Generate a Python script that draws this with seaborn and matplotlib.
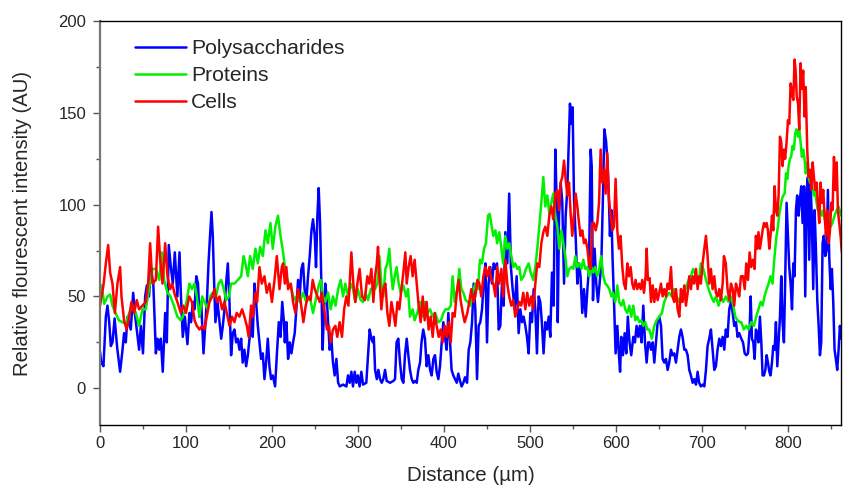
import numpy as np
import pandas as pd
import seaborn as sns
import matplotlib
matplotlib.use("Agg")
import matplotlib.pyplot as plt
from matplotlib.ticker import MultipleLocator

# ---------------- data ----------------
poly_x = [0,1.5,4,6.8,8.7,10.7,12.6,14.5,17,20,23.4,26,28,30,32,35.8,38.6,40.5,42.8,45.5,47.5,50,52.5,54.5,57,59,62,65,66.9,68.8,70.7,73,75.8,77.7,80,82.4,84.7,87,90,92.5,94,96.3,98.7,101.7,104,
          106,108,110,112,114,115.7,117.7,120.4,122.7,124.6,126.2,128,129.7,131.2,132.8,134.3,136.7,139,141,142.9,144.8,146.7,148.7,150.6,152.5,154.5,156.4,158.4,160.3,162.2,164.2,166,168,170,172,173.9,175.8,177.7,179.7,181.6,183.6,185.5,187.4,189.4,191.3,193.2,195.2,197.1,199,201,203.7,205.7,208,210,
          212,214,215,216.8,218.8,220.7,222.7,224.6,226.5,228.4,230.4,232.3,234.3,236.2,238,240,242,244,246,247.8,249.8,251.3,252.9,254.4,256,257.5,259,260.6,262,263.7,265.3,267.2,269,271,273,275,277,279,282.7,286.6,288.5,290.5,292.4,294.3,296.3,298.2,300,302,304,306,309.8,311.8,313.7,315.7,317.6,
          318.5,320,322,323.8,325.8,327.7,329.6,331.6,333.5,337.4,341.3,343.2,345,347,349,351,352.9,354.8,356.8,358.7,360.6,362.6,364.5,366.4,368.4,370.3,372.3,374,376,378,380,382,384,385.8,387.8,389.7,391.6,393.6,395.5,397.5,399.4,401.3,403.3,405.2,407,409,411,413,415,416.8,418.8,420.7,422.7,424.6,
          427,428.9,430.8,432.8,434.7,436.6,438.6,440.5,442.4,444.4,446.3,448.3,450.2,452,454,456,458,460,461.8,463.8,465.7,467.6,469.6,471.5,473.8,476,478,480,482.4,484.7,487,489,491,492.8,494.8,496.7,498.6,500.6,502.5,504.5,506.4,508.3,510.3,512.2,514,516,518,520,522,523.8,525.8,527.7,529.7,531.6,
          532.5,534,535.9,537.8,539.8,541.7,543.6,545.6,546.7,548.3,549.8,551.4,553.3,555.3,557.2,559,561,563,565,567,568.8,570.8,572,573.5,575.4,577.3,579.3,581.2,583.2,585,586.7,588.6,590,591.7,593.2,594.8,596.3,597.9,599.8,601.8,603.3,605,606.4,608.4,610.3,612.2,614,616,618,620.4,622.3,624.2,626.2,628,630,632,634,635.9,637.8,
          639,641,643,644.8,646.8,648.7,650.6,652.6,654.5,656.4,658.4,660.3,662.2,664.2,666,668,670,672,673.9,675.8,677.7,679.7,681.6,683.6,685.5,687.4,689.4,691.3,693.3,695.2,697,699,701,703,704.9,706.8,708.7,710.7,712.6,714.6,716.5,718.4,720.4,722.3,724.3,726.2,728,730,732,734,736,737.8,739.8,741.7,743.6,
          746,748,750,751.8,753.8,755.7,756.9,758.4,760,761.5,763,764.6,766,767.7,769.3,770.8,772.4,774,775.5,777,778.6,780,781.7,783.2,784.8,786.3,787.9,789.4,791,792.5,794,795.6,797,798.7,800.3,801.8,803.4,805,806.5,808,809.6,811,812.7,814.2,815.8,817.3,818.9,820.4,822,823.5,825,826.6,828,829.7,831.3,832.8,834.4,836,837.5,839,840.6,842,843.7,845.2,846.8,848.3,849.9,851.4,853,854.5,856,857.6,859.2,860.7,862.3]
poly_y = [20,14,12,39,45,36,23,25,38,22,9,20,30,25,39,32,52,41,32,21,34,19,50,56,50,65,57,19,27,21,27,9,41,25,78,66,57,74,50,74,52,28,39,24,41,
          36,47,43,61,57,39,47,19,36,50,68,83,96,83,57,36,47,36,27,34,43,57,68,47,18,30,32,25,27,21,27,14,21,12,18,27,39,28,57,47,34,25,16,19,5,14,27,12,5,7,1,18,36,28,
          47,36,25,36,16,25,19,25,30,43,59,50,65,68,54,47,61,72,86,92,83,66,94,109,90,57,21,43,57,50,36,21,28,14,7,16,3,1,2,1,7,3,9,1,9,3,7,1,9,2,3,18,32,27,25,
          28,10,5,10,5,3,5,10,4,3,4,5,25,27,14,5,3,18,27,18,10,5,3,4,3,10,14,25,32,27,12,18,10,7,16,18,9,5,12,25,36,28,21,41,27,10,7,5,3,8,4,1,3,6,
          3,21,25,36,57,43,5,34,36,43,57,68,25,57,66,57,68,65,68,32,34,57,45,85,68,106,66,54,43,61,30,43,36,39,34,28,19,41,36,54,43,19,50,47,36,19,36,32,39,28,63,45,130,94,
          36,94,112,101,57,94,108,139,155,144,153,103,83,57,68,61,41,54,39,54,65,130,121,48,76,57,47,57,68,103,141,135,126,108,83,97,70,48,19,34,21,9,28,18,30,19,39,25,18,28,25,34,28,34,25,45,25,14,25,
          25,21,25,14,25,36,39,34,16,14,16,10,14,21,18,19,14,21,28,32,28,21,21,18,10,7,3,5,2,9,3,1,2,1,10,23,27,32,21,10,12,21,27,23,28,21,32,28,43,47,41,34,36,28,30,
          27,25,19,18,19,32,50,27,25,16,32,30,25,39,25,7,7,10,18,14,9,7,14,23,21,36,12,25,39,61,36,25,57,101,83,66,57,43,68,61,97,105,94,103,110,90,110,50,108,115,70,112,94,54,97,76,48,34,18,25,79,83,72,75,108,72,54,65,47,21,16,10,21,34,27]

prot_x = [0,2,4.9,8.7,11.8,14.5,18,22,26,30,34,37.8,41.7,45.5,49.4,53.3,57,61,65,69,72,74.6,78.5,82,86,90,94,98,101.7,104,107,110,112.6,115.7,118.8,121.5,125.4,128,131,135,138,141,144,146.7,150,152.5,156.4,160.3,164.2,167,169.2,172,174.6,177.7,180.8,183.6,186.3,189.4,192.5,195.2,198.3,201,204,207,210,
          213,215,216.8,219.5,222.7,225.7,228.4,232.3,236.2,240,244,247.8,251.7,254.4,256.7,259.5,262,265.3,268.4,271,274,277,280,282.7,285.4,288.5,291.6,294.3,297,300,303.2,306,308.7,311.8,315,
          318,320,322.6,325,327.3,329.6,332,334.3,336.6,338,340.5,342.8,345,347.5,349.8,352.9,356,358.3,360.6,363.7,366,369,372.3,375.4,378,380.8,384,387,390,393.6,396.7,399.4,402,405.2,408,410.2,412.6,415.7,418,420.3,422.7,425.4,
          428,430.8,433.5,436.6,439.7,442,444.4,446.7,449,451.4,453.3,455,457.6,460,462,464.5,467,469,471.5,473.8,476,478.5,480.8,483,485.5,487.8,490,492.8,495.5,498.6,501,504,506.4,508.7,511,513.4,515.7,518,520.4,522.7,525,527.3,529.7,
          532,534.3,536.7,539,541.3,543.6,546,548.3,550.6,553,555.3,557.6,560,562.2,564.6,567,569.2,571.5,574,576,578.5,580.8,583,585.5,587.8,590,592.5,594.8,597,599.4,601.8,604,606.4,608.7,611,613.4,615.7,618,620.4,622.7,625,627.4,629.7,632,634.3,636.7,
          639,642,644.8,647.5,650.6,653.7,656.4,659,662.2,665.4,668,670.8,673.9,677,679.7,682.4,684.7,687.4,690,693.3,696.4,699,701.8,705,708,711,714,716.5,719.6,722.3,725,728,731.2,734,736.7,739,741.7,744.4,
          746,749,751.8,754.5,757.6,760.7,763.4,766,768.5,770.8,773,775.5,777.8,780,782.4,784,785.5,787,788.6,790,791.7,793.3,794.8,796.4,798,799.5,801,802.6,804,805.7,807.2,808.8,810.3,812,813.4,815,816.5,818,819.6,821,822.7,824.3,825.8,827.4,829,830.5,832,833.6,835,836.7,838.2,839.8,841.3,843,845,847.5,850,852,854.5,857,859,862.3]
prot_y = [52,56,46,50,51,45,41,37,36,35,41,45,41,34,43,43,54,65,65,59,74,59,52,50,45,39,37,41,50,57,54,57,50,39,50,47,43,50,52,50,57,59,54,48,50,57,57,59,61,72,68,61,72,65,76,68,77,72,86,79,90,76,88,94,83,
          74,66,61,57,54,48,50,47,52,47,50,41,50,56,59,50,47,52,43,50,45,54,59,50,57,50,57,54,47,54,48,47,52,48,54,
          55,54,57,72,57,50,65,68,76,66,54,61,66,57,52,56,50,54,39,43,37,41,47,39,47,41,43,39,41,36,37,41,43,43,45,61,47,54,65,54,52,48,
          47,45,52,57,54,70,68,76,79,94,95,90,83,86,79,85,76,68,83,76,79,72,66,68,65,66,59,61,65,68,63,59,66,76,88,101,115,99,105,95,101,106,94,
          88,76,86,79,72,61,65,66,65,72,66,68,65,70,65,66,61,66,63,66,61,65,72,61,57,56,54,50,52,47,56,47,45,48,43,41,45,39,45,37,39,36,37,34,36,32,
          32,27,34,37,39,41,47,50,52,50,54,50,47,50,52,56,59,61,65,61,57,68,65,59,54,50,47,50,45,50,47,50,47,50,45,39,37,36,
          36,32,34,32,36,34,39,43,47,45,50,54,57,61,57,68,76,83,88,94,99,103,105,106,117,114,121,125,126,132,130,139,141,137,141,134,126,130,125,117,123,115,112,115,108,105,108,101,97,101,95,94,97,92,90,94,88,90,94,97,99,94]

cell_x = [0,4,6.8,9.5,11.8,14.5,17.3,20.3,23.4,25,28,31,34,36.6,39.7,42.8,45.5,49.4,53.3,56,58.3,61,65,67.6,70,72.7,75.8,78.5,81.6,84,87,90,94,97,100,103.7,107,110,112.6,115.7,118.8,121.5,124.2,127.3,130.5,133.2,136,139,142,144.8,147.5,150.6,153.7,156.4,159,162.2,165.3,168,170.8,173,175.8,177.7,180.5,182.8,185.5,188.2,191.3,194,197.1,200,203,205.7,208.8,211.5,
          213,215,216.8,218.8,222,224.6,227.3,230.4,233.5,236.6,239.3,242,245,247.4,249.8,253,255.6,258,261.4,264,266.4,268.4,271,273.8,276,278.8,281.5,284,286.6,289,292.4,294.7,297,299.4,302,304.8,308,311,313.3,315.7,
          318,320,322,323.4,325,327.3,329.6,332,334.3,336.6,339,341.3,343.6,346,348.2,350.6,352.9,355.2,356.8,359,361.4,363.7,366,368.4,370.7,373,375.4,377.7,380,382.3,384.7,387,389.3,391.6,394,396.3,398.6,401,403.3,405.6,408,410.2,412.6,415,417.2,419.5,422,424.2,
          427.3,429.6,432,434.3,436.6,439,441.3,443.6,446,448.3,450.6,453,455.2,457.6,460,462,464.5,466.9,469,471.5,473.8,476,478.5,480.8,483,485.5,487.8,490,492.4,494.8,497,499.4,501.7,504,506.4,508.7,511,513.4,515.7,518,520.4,522.7,525,527.3,529.7,
          532,534,535.9,537.8,539.8,541.7,543.6,545.6,547.5,549.4,551.4,553.3,555.3,557.2,559,561,563,565,567,568.8,570.8,572.7,574.6,576.6,578.5,580.5,582.4,584.3,586.3,588.2,590.1,592,594,596,597.9,599.8,601.8,603.7,605.6,607.6,609.5,611.5,613.4,615.3,617.3,619.2,621,623,625,627,629,630.8,632.8,634.7,635.9,637.4,
          639.4,641,643,644.8,646.8,648.7,650.6,652.6,654.5,656.4,658.4,660.3,662.2,664.2,666,668,670,672,673.9,675.8,677.7,679.7,681.6,683.6,685.5,687.4,689.4,691.3,693.3,695.2,697,699,701,703,704.9,706.8,708.7,710.7,712.6,714.6,716.5,718.4,720.4,722.3,724.3,725.8,728,730,732,734,736,737.8,739.8,741.7,743.6,745.6,
          748,750,751.8,753.8,755.7,757.6,759.6,761.5,763,764.6,766,767.7,769.3,770.8,772.4,774,775.5,777,778.6,780,781.7,783.2,784.8,786.3,787.9,789.4,791,792.5,794,795.6,797,798.7,800.3,801.8,803.4,805,806.5,808,809.2,810.5,812,813.4,815,816.5,818,819.6,821,822.7,824.3,825.8,827.4,829,830.5,832,833.6,835,836.7,838.2,839.8,841.3,843,844.5,846,847.7,849.2,850.7,852.2,853.8,855.3,857,858.4,860,861.5,863]
cell_y = [45,56,68,78,63,57,41,57,66,50,37,32,39,47,41,48,43,45,47,57,79,57,59,88,70,57,79,61,54,57,51,47,41,45,41,50,47,37,34,32,34,32,39,47,50,54,47,50,43,47,41,34,39,36,41,39,43,39,34,28,45,39,52,47,66,57,61,52,57,47,59,72,54,66,
          68,57,66,54,57,47,41,54,47,36,45,50,48,59,54,50,47,52,41,32,34,25,32,34,28,36,28,43,50,45,74,57,47,57,65,50,48,61,57,65,
          47,61,68,77,61,43,54,57,41,34,47,41,34,47,43,54,63,74,57,66,72,61,70,57,45,36,50,37,47,32,39,28,41,34,28,32,25,34,28,36,25,41,39,52,59,48,41,36,
          41,47,54,47,50,59,57,50,61,66,61,66,59,57,50,66,57,65,50,70,57,50,45,48,39,43,47,45,52,43,52,45,50,43,57,68,66,79,85,88,83,94,99,92,106,
          108,97,112,115,124,114,105,112,95,83,95,106,99,90,83,86,79,81,76,68,65,90,90,86,90,101,130,112,119,106,128,103,94,86,88,114,86,76,83,66,57,54,68,61,66,57,54,59,54,57,54,59,52,61,76,59,
          60,47,56,47,54,48,52,57,50,54,50,57,54,66,50,47,54,43,39,54,47,56,45,52,61,54,61,57,65,54,61,57,68,76,83,72,57,65,54,61,52,50,54,48,57,72,68,54,48,57,54,45,57,54,50,61,
          61,54,68,59,74,66,70,65,83,76,85,76,81,86,90,88,90,86,76,83,94,86,110,97,94,105,137,134,121,130,125,134,146,144,166,161,157,179,173,159,155,141,177,163,173,148,164,130,115,119,108,123,115,108,112,101,90,112,101,108,94,83,97,79,86,101,97,126,108,123,97,90,83,74]

series_names = ["Polysaccharides", "Proteins", "Cells"]
series_colors = ["#0000FF", "#00F000", "#FF0000"]

# ---------------- build long table ----------------
frames = []
for name, xs, ys in [("Polysaccharides", poly_x, poly_y),
                     ("Proteins", prot_x, prot_y),
                     ("Cells", cell_x, cell_y)]:
    frames.append(pd.DataFrame({"x": xs, "y": ys, "series": name}))
df = pd.concat(frames, ignore_index=True)

sns.set_theme(style="white")
plt.rcParams["font.family"] = ["Liberation Sans", "DejaVu Sans"]

fig = plt.figure(figsize=(8.45, 4.88), dpi=100)
ax = fig.add_axes([100/845, 1-425/488, 741/845, 404/488])

sns.lineplot(data=df, x="x", y="y", hue="series", hue_order=series_names,
             palette=dict(zip(series_names, series_colors)),
             estimator=None, sort=False, linewidth=1.8, ax=ax)

ax.set_xlim(0, 862)
ax.set_ylim(-20, 200)
ax.xaxis.set_major_locator(MultipleLocator(100))
ax.xaxis.set_minor_locator(MultipleLocator(50))
ax.yaxis.set_major_locator(MultipleLocator(50))
ax.yaxis.set_minor_locator(MultipleLocator(25))
ax.tick_params(axis="both", which="major", direction="out", length=5, width=1,
               labelsize=12, pad=3, color="#555555")
ax.tick_params(axis="both", which="minor", direction="out", length=3, width=1,
               color="#555555")
ax.tick_params(axis="x", which="both", bottom=True, top=False)
ax.tick_params(axis="y", which="both", left=True, right=False)
ax.tick_params(axis="y", which="major", pad=5)

for s in ["top", "right", "bottom"]:
    ax.spines[s].set_visible(True)
    ax.spines[s].set_color("black")
    ax.spines[s].set_linewidth(1.0)
ax.spines["left"].set_color("#777777")
ax.spines["left"].set_linewidth(1.6)

ax.set_xlabel("Distance (µm)", fontsize=14.8, labelpad=11)
ax.set_ylabel("Relative flourescent intensity (AU)", fontsize=14.6, labelpad=19)

leg = ax.legend(loc="upper left", bbox_to_anchor=(35/741, 1 - 18/404),
                frameon=False, fontsize=15.2, handlelength=2.4, handletextpad=0.25,
                labelspacing=0.38, borderpad=0, borderaxespad=0)
for line in leg.get_lines():
    line.set_linewidth(1.8)

fig.savefig("out.png", dpi=100)
